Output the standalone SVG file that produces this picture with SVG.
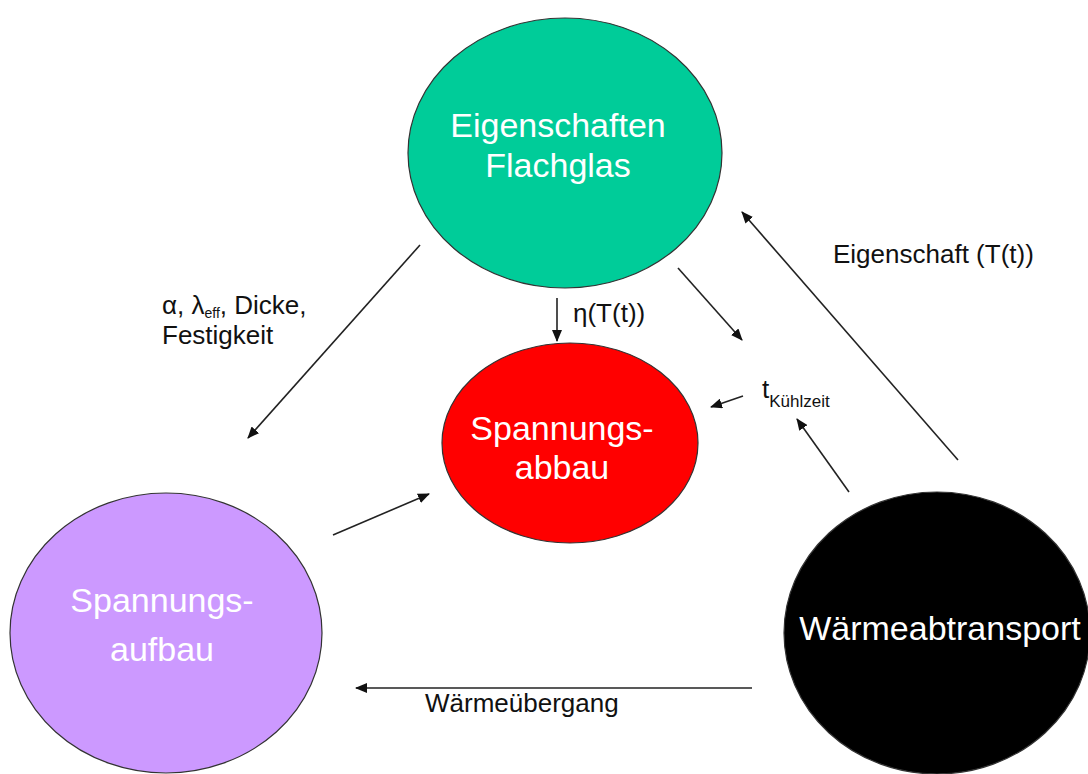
<svg xmlns="http://www.w3.org/2000/svg" width="1088" height="774" viewBox="0 0 1088 774">
<style>
.node{stroke:#333;stroke-width:1.2}
.nt{font-family:"Liberation Sans",Arial,sans-serif;font-size:34px;fill:#fff;text-anchor:middle}
.lb{font-family:"Liberation Sans",Arial,sans-serif;font-size:26px;fill:#111}
.cn{stroke:#222;stroke-width:1.6;fill:none;marker-end:url(#ah)}
</style>
<defs>
<marker id="ah" viewBox="0 0 12 10" refX="11" refY="5" markerWidth="12" markerHeight="10" markerUnits="userSpaceOnUse" orient="auto">
<path d="M0,0 L12,5 L0,10 Z" fill="#111"/>
</marker>
</defs>
<rect width="1088" height="774" fill="#fff"/>
<g id="eigenschaften">
<ellipse class="node" cx="565" cy="153" rx="157" ry="135" fill="#00CC99"/>
<text class="nt" x="558" y="137">Eigenschaften</text>
<text class="nt" x="558" y="177">Flachglas</text>
</g>
<g id="spannungsabbau">
<ellipse class="node" cx="570" cy="443" rx="128" ry="100" fill="#FF0000"/>
<text class="nt" x="562" y="440">Spannungs-</text>
<text class="nt" x="562" y="479">abbau</text>
</g>
<g id="spannungsaufbau">
<ellipse class="node" cx="166" cy="633" rx="156" ry="140" fill="#CC99FF"/>
<text class="nt" x="162" y="612">Spannungs-</text>
<text class="nt" x="162" y="661">aufbau</text>
</g>
<g id="waermeabtransport">
<ellipse class="node" cx="937" cy="633" rx="153" ry="141" fill="#000"/>
<text class="nt" x="940" y="640">Wärmeabtransport</text>
</g>
<g id="connectors">
<line class="cn" x1="420" y1="245" x2="248" y2="438"/>
<line class="cn" x1="557" y1="298" x2="557" y2="341"/>
<line class="cn" x1="678" y1="268" x2="742" y2="340"/>
<line class="cn" x1="743" y1="396" x2="711" y2="407"/>
<line class="cn" x1="849" y1="492" x2="797" y2="419"/>
<line class="cn" x1="958" y1="460" x2="742" y2="212"/>
<line class="cn" x1="333" y1="535" x2="429" y2="494"/>
<line class="cn" x1="752" y1="688" x2="356" y2="688"/>
</g>
<g id="labels">
<text class="lb" x="162" y="314">α, λ<tspan font-size="14" dy="4">eff</tspan><tspan dy="-4">, Dicke,</tspan></text>
<text class="lb" x="162" y="344">Festigkeit</text>
<text class="lb" x="573" y="322">η(T(t))</text>
<text class="lb" x="762" y="398">t<tspan font-size="17" dy="9">Kühlzeit</tspan></text>
<text class="lb" x="833" y="263">Eigenschaft (T(t))</text>
<text class="lb" x="425" y="712" font-size="25">Wärmeübergang</text>
</g>
</svg>
